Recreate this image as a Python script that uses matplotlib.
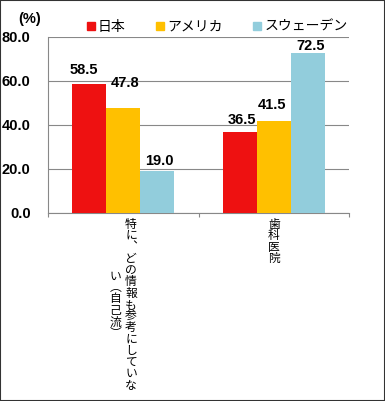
import matplotlib.pyplot as plt
from matplotlib.lines import Line2D
from matplotlib.patches import Rectangle

CJK = ['Noto Sans CJK JP', 'DejaVu Sans']
NUM = 'Liberation Sans'

categories = ["特に、どの情報も参考にしていない（自己流）", "歯科医院"]
series_names = ["日本", "アメリカ", "スウェーデン"]
japan = [58.5, 36.5]
usa = [47.8, 41.5]
sweden = [19.0, 72.5]
yticks = [0, 20, 40, 60, 80]

colors = ['#EE1111', '#FFC000', '#92CDDC']
# label nudges in points (dx, dy above bar top), per series per category
label_dx = [[-4, 1.5], [1, -1.5], [1.5, 2]]
label_dy = [[10, 8.6], [18, 11.5], [7.2, 5]]

# vertical forms for tategaki labels
vert = {"、": "︑", "（": "︵", "）": "︶"}

fig = plt.figure(figsize=(3.85, 4.01), dpi=100)
ax = fig.add_axes([48 / 385, 1 - 212.7 / 401, 301 / 385, 176 / 401])

width = 0.225
values = [japan, usa, sweden]
x = list(range(len(categories)))
for i, vals in enumerate(values):
    xs = [xi + (i - 1) * width for xi in x]
    ax.bar(xs, vals, width=width, color=colors[i], zorder=3)
    for j, v in enumerate(vals):
        ax.annotate(f"{v:.1f}", xy=(xs[j], v), xytext=(label_dx[i][j], label_dy[i][j]),
                    textcoords='offset points', ha='center', va='center',
                    fontsize=10.5, fontweight='bold', family=NUM, zorder=4)

ax.set_xlim(-0.5, len(categories) - 0.5)
ax.set_ylim(0, 80)
ax.set_yticks(yticks)
ax.set_yticklabels([f"{t:.1f}" for t in yticks], fontsize=10.5, fontweight='bold', family=NUM)
ax.tick_params(axis='y', length=0, pad=12.5)
ax.set_xticks([k - 0.5 for k in range(len(categories) + 1)])
ax.set_xticklabels([])
ax.tick_params(axis='x', length=3, color='#888888', direction='out')
ax.grid(axis='y', color='#888888', linewidth=0.8, zorder=0)
for s in ['top', 'right']:
    ax.spines[s].set_visible(False)
for s in ['left', 'bottom']:
    ax.spines[s].set_color('#888888')

# vertical category labels
step = 8.3
col_gap = 11.2
per_col = 15
for k, lab in enumerate(categories):
    chars = [vert.get(c, c) for c in lab]
    cols = [chars[n:n + per_col] for n in range(0, len(chars), per_col)]
    block = max(len(c) for c in cols) * step
    ncol = len(cols)
    for ci, col in enumerate(cols):
        cx = ((ncol - 1) / 2 - ci) * col_gap
        top = 4 + (block - len(col) * step) / 2
        for r, ch in enumerate(col):
            ax.annotate(ch, xy=(k, 0), xycoords=('data', 'axes fraction'),
                        xytext=(cx, -(top + (r + 0.5) * step)), textcoords='offset points',
                        ha='center', va='center', fontsize=8.5, family=CJK,
                        annotation_clip=False)

fig.text(29.5 / 385, 1 - 19.5 / 401, "(%)", ha='center', va='center',
         fontsize=10.5, fontweight='bold', family=NUM)

handles = [Line2D([], [], marker='s', linestyle='none', markersize=5.8,
                  markerfacecolor=c, markeredgecolor=c) for c in colors]
fig.legend(handles, series_names, loc='center', bbox_to_anchor=(217 / 385, 1 - 26.5 / 401),
           ncol=3, frameon=False, prop={'family': CJK, 'size': 10},
           handlelength=0.6, handletextpad=0.2, columnspacing=2.2, borderpad=0)

fig.patches.append(Rectangle((0, 0), 1, 1, transform=fig.transFigure, fill=False,
                             edgecolor='#333333', linewidth=1.5))

fig.savefig("out.png", dpi=100)
